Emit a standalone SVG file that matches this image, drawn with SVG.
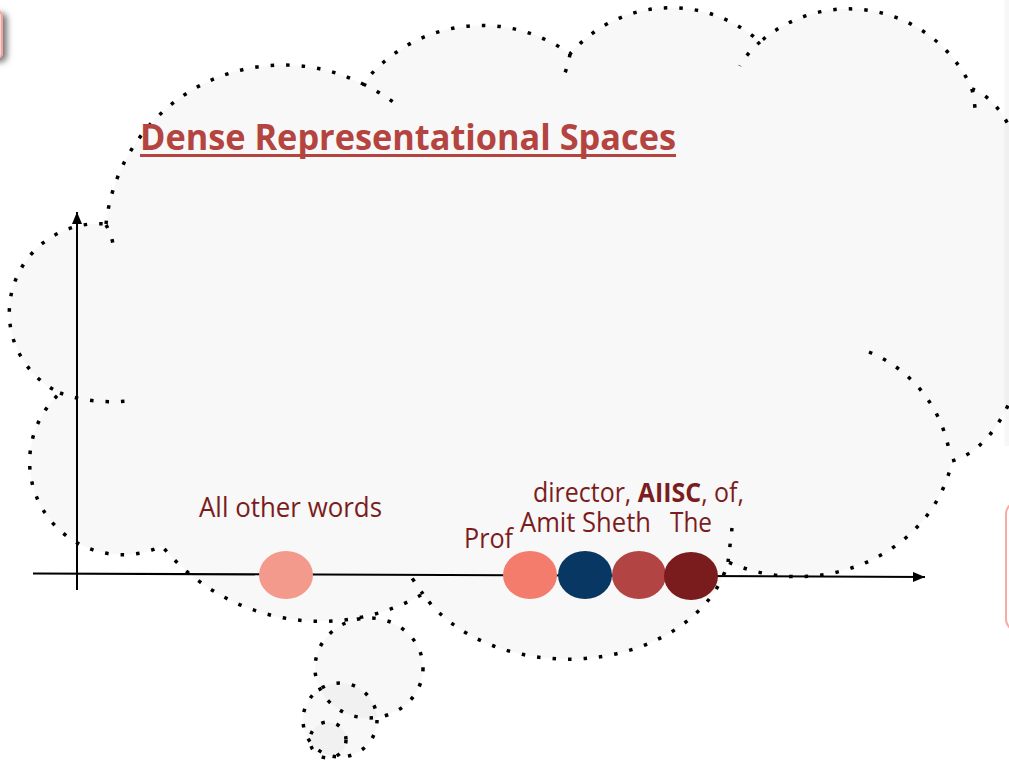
<svg xmlns="http://www.w3.org/2000/svg" width="1009" height="767" viewBox="0 0 1009 767">
  <defs>
    <style>
      .dots { fill: none; stroke: #000; stroke-width: 3.5; stroke-dasharray: 3.5 12; }
      .cloud { fill: #f8f8f8; stroke: #000; stroke-width: 3.5; stroke-dasharray: 3.5 12; }
      .bubble { fill: #000; fill-opacity: 0.028; stroke: #000; stroke-width: 3.5; stroke-dasharray: 3.5 12; }
      .axis { fill: none; stroke: #000; stroke-width: 2; }
      .label { font-family: "Open Sans", "Noto Sans", "Liberation Sans", sans-serif; font-size: 27px; fill: #7b1c20; }
      .title { font-family: "Open Sans", "Noto Sans", "Liberation Sans", sans-serif; font-size: 36px; font-weight: 700; fill: #b4443f; }
    </style>
    <marker id="arrow" viewBox="0 0 12 10" refX="12" refY="5" markerWidth="12" markerHeight="10" markerUnits="userSpaceOnUse" orient="auto">
      <path d="M0,0 L12,5 L0,10 z" fill="#000"/>
    </marker>
    <filter id="shadow" x="-50%" y="-50%" width="200%" height="200%">
      <feDropShadow dx="4" dy="3" stdDeviation="3" flood-color="#000" flood-opacity="0.55"/>
    </filter>
  </defs>

  <rect width="1009" height="767" fill="#fff"/>

  <!-- neighbouring slide elements at the edges -->
  <rect x="-60" y="11" width="62" height="47" rx="5" fill="#fbd6d2" stroke="#f2a59e" stroke-width="2" filter="url(#shadow)"/>
  <rect x="1006" y="502" width="40" height="129" rx="12" fill="#fff" stroke="#f4aca3" stroke-width="2"/>

  <!-- thought cloud -->
  <g id="cloud">
    <path class="cloud" d="M106,224 A178 178 0 0 1 363,84 A150 150 0 0 1 570,54 A133 133 0 0 1 760,42 A135 135 0 0 1 972,89 C1060,120 1060,430 952,461 A157 141 0 0 1 728,562 A163 120 0 0 1 423,594 A205 205 0 0 1 162,546 A93 93 0 0 1 60,393 A89 89 0 0 1 106,224 Z"/>
    <!-- inner arcs of the cloud -->
    <path class="dots" d="M60,393 Q90,404 127,401"/>
    <path class="dots" d="M106,225 Q111,233 113,244"/>
    <path class="dots" d="M363,84 A178 178 0 0 1 397,105"/>
    <path class="dots" d="M570,54 Q568,66 563,78"/>
    <path class="dots" d="M760,42 Q748,52 740,66"/>
    <path class="dots" d="M972,89 Q974,98 975,108"/>
    <path class="dots" d="M869,352 A133 133 0 0 1 950,456"/>
    <path class="dots" d="M728,562 Q730,546 732,528"/>
    <path class="dots" d="M423,594 Q418,587 412,578"/>
  </g>
  <rect x="1004.5" y="0" width="5" height="446" fill="#000" fill-opacity="0.03"/>

  <!-- trailing bubbles -->
  <g id="bubbles">
    <ellipse class="bubble" cx="369" cy="668" rx="54" ry="50"/>
    <ellipse class="bubble" cx="340" cy="720" rx="37" ry="37"/>
    <ellipse class="bubble" cx="328" cy="740" rx="18" ry="18"/>
  </g>

  <g id="title">
    <text class="title" x="140" y="150" textLength="536" lengthAdjust="spacingAndGlyphs">Dense Representational Spaces</text>
    <rect x="140" y="154" width="536" height="3" fill="#b4443f"/>
  </g>

  <!-- axes -->
  <g id="connectors">
    <line class="axis" x1="77" y1="590" x2="77" y2="212" marker-end="url(#arrow)"/>
    <line class="axis" x1="33" y1="573.5" x2="925" y2="577" marker-end="url(#arrow)"/>
  </g>

  <!-- word embeddings -->
  <g id="node-other-words">
    <ellipse cx="286" cy="575" rx="27" ry="24" fill="#f39a8d"/>
    <text class="label" x="199" y="517" textLength="183" lengthAdjust="spacingAndGlyphs">All other words</text>
  </g>
  <g id="node-prof">
    <ellipse cx="530" cy="575" rx="27" ry="24" fill="#f47c6c"/>
    <text class="label" x="464" y="548" textLength="49" lengthAdjust="spacingAndGlyphs">Prof</text>
  </g>
  <g id="node-amit-sheth">
    <ellipse cx="585" cy="575" rx="27" ry="24" fill="#083763"/>
    <text class="label" x="520" y="532" textLength="131" lengthAdjust="spacingAndGlyphs">Amit Sheth</text>
  </g>
  <g id="node-director">
    <ellipse cx="639" cy="575" rx="27" ry="24" fill="#b24444"/>
    <text class="label" x="533" y="502" textLength="211" lengthAdjust="spacingAndGlyphs">director, <tspan font-weight="700">AIISC</tspan>, of,</text>
  </g>
  <g id="node-the">
    <ellipse cx="691" cy="576" rx="27" ry="24" fill="#7a1b1e"/>
    <text class="label" x="670" y="532" textLength="42" lengthAdjust="spacingAndGlyphs">The</text>
  </g>
</svg>
